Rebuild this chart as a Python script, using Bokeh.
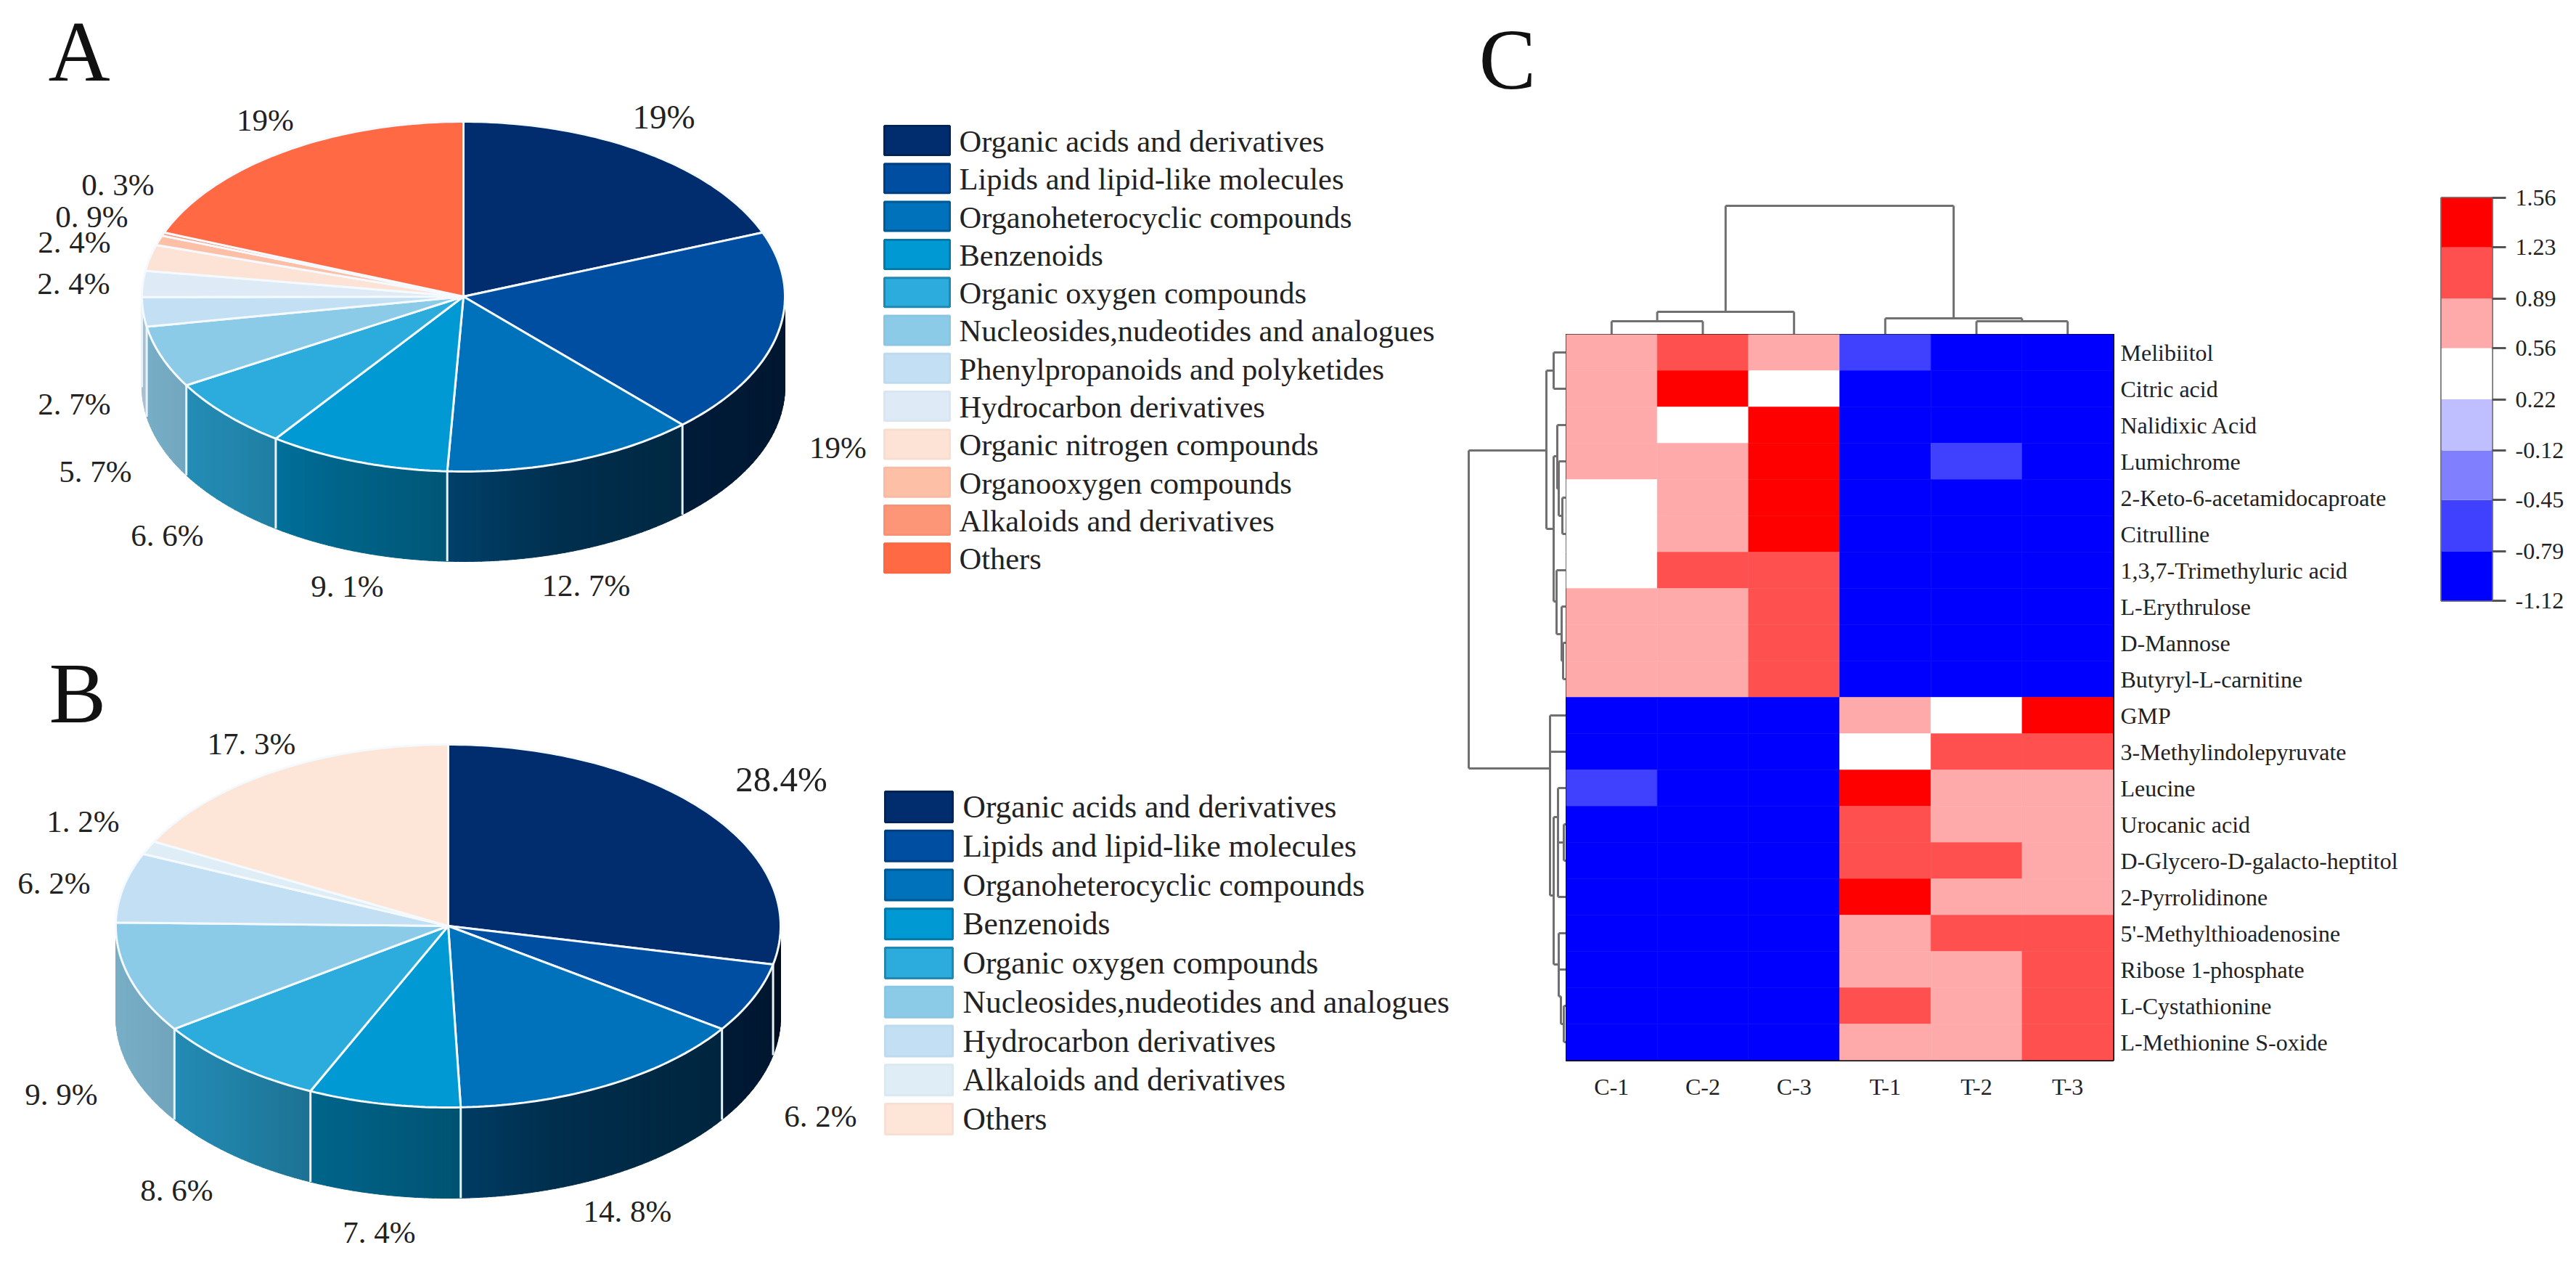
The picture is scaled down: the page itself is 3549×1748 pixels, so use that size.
import math
from bokeh.core.properties import value
from bokeh.embed import file_html
from bokeh.layouts import column, row
from bokeh.models import FactorRange, FixedTicker, LinearAxis, LinearColorMapper, PrintfTickFormatter, Range1d, Spacer
from bokeh.plotting import figure
from bokeh.resources import INLINE
from bokeh.transform import transform

# ---------- data ----------
a_labels = ["Organic acids and derivatives", "Lipids and lipid-like molecules", "Organoheterocyclic compounds",
            "Benzenoids", "Organic oxygen compounds", "Nucleosides,nudeotides and analogues",
            "Phenylpropanoids and polyketides", "Hydrocarbon derivatives", "Organic nitrogen compounds",
            "Organooxygen compounds", "Alkaloids and derivatives", "Others"]
a_values = [19, 19, 12.7, 9.1, 6.6, 5.7, 2.7, 2.4, 2.4, 0.9, 0.3, 19]
a_texts = ["19%", "19%", "12. 7%", "9. 1%", "6. 6%", "5. 7%", "2. 7%", "2. 4%", "2. 4%", "0. 9%", "0. 3%", "19%"]
a_colors = ["#012c6e", "#004ea2", "#0071bb", "#0099d3", "#2cabdd", "#8ccbe8", "#c3dff3", "#deebf6",
            "#fde3d5", "#fdbfa6", "#fc9676", "#ff6a45"]

b_labels = ["Organic acids and derivatives", "Lipids and lipid-like molecules", "Organoheterocyclic compounds",
            "Benzenoids", "Organic oxygen compounds", "Nucleosides,nudeotides and analogues",
            "Hydrocarbon derivatives", "Alkaloids and derivatives", "Others"]
b_values = [28.4, 6.2, 14.8, 7.4, 8.6, 9.9, 6.2, 1.2, 17.3]
b_texts = ["28.4%", "6. 2%", "14. 8%", "7. 4%", "8. 6%", "9. 9%", "6. 2%", "1. 2%", "17. 3%"]
b_colors = ["#012c6e", "#004ea2", "#0071bb", "#0099d3", "#2cabdd", "#8ccbe8", "#c3dff3", "#deedf6", "#fde5d8"]

samples = ["C-1", "C-2", "C-3", "T-1", "T-2", "T-3"]
metabolites = ["Melibiitol", "Citric acid", "Nalidixic Acid", "Lumichrome", "2-Keto-6-acetamidocaproate",
               "Citrulline", "1,3,7-Trimethyluric acid", "L-Erythrulose", "D-Mannose", "Butyryl-L-carnitine",
               "GMP", "3-Methylindolepyruvate", "Leucine", "Urocanic acid", "D-Glycero-D-galacto-heptitol",
               "2-Pyrrolidinone", "5'-Methylthioadenosine", "Ribose 1-phosphate", "L-Cystathionine",
               "L-Methionine S-oxide"]
heat = [
    [0.72, 1.06, 0.72, -0.62, -0.95, -0.95],
    [0.72, 1.39, 0.39, -0.95, -0.95, -0.95],
    [0.72, 0.39, 1.39, -0.95, -0.95, -0.95],
    [0.72, 0.72, 1.39, -0.95, -0.62, -0.95],
    [0.39, 0.72, 1.39, -0.95, -0.95, -0.95],
    [0.39, 0.72, 1.39, -0.95, -0.95, -0.95],
    [0.39, 1.06, 1.06, -0.95, -0.95, -0.95],
    [0.72, 0.72, 1.06, -0.95, -0.95, -0.95],
    [0.72, 0.72, 1.06, -0.95, -0.95, -0.95],
    [0.72, 0.72, 1.06, -0.95, -0.95, -0.95],
    [-0.95, -0.95, -0.95, 0.72, 0.39, 1.39],
    [-0.95, -0.95, -0.95, 0.39, 1.06, 1.06],
    [-0.62, -0.95, -0.95, 1.39, 0.72, 0.72],
    [-0.95, -0.95, -0.95, 1.06, 0.72, 0.72],
    [-0.95, -0.95, -0.95, 1.06, 1.06, 0.72],
    [-0.95, -0.95, -0.95, 1.39, 0.72, 0.72],
    [-0.95, -0.95, -0.95, 0.72, 1.06, 1.06],
    [-0.95, -0.95, -0.95, 0.72, 0.72, 1.06],
    [-0.95, -0.95, -0.95, 1.06, 0.72, 1.06],
    [-0.95, -0.95, -0.95, 0.72, 0.72, 1.06],
]
scale_ticks = [-1.12, -0.79, -0.45, -0.12, 0.22, 0.56, 0.89, 1.23, 1.56]
scale_colors = ["#0000ff", "#4040ff", "#8080ff", "#bfbfff", "#ffffff", "#ffaaaa", "#ff5050", "#ff0000"]

# dendrogram merge trees: (merge height, attach position, children); an int child is a leaf index
col_tree = (177, 2.95, [(31, 1.75, [(18, 1.0, [0, 1]), 2]),
                        (22, 4.25, [3, (18, 5.0, [4, 5])])])
row_tree = (134, 7.0, [
    (27, 3.2, [
        (17, 1.0, [0, 1]),
        (17, 5.36, [
            (12, 3.36, [2, (10, 4.26, [3, (5, 5.0, [4, 5])])]),
            (13, 7.36, [6, (6, 8.26, [7, (4, 9.0, [8, 9])])]),
        ]),
    ]),
    (22, 11.96, [10, 11, (17, 15.46, [
        (11, 13.3, [12, (3, 14.0, [13, 14]), 15]),
        (10, 17.36, [16, 17, (7, 18.24, [(3, 19.0, [18, 19])])]),
    ])]),
])

# ---------- helpers ----------
FONT = "Liberation Serif"
INK = "#222222"
BASE_SHIFT = 0.33  # em the alphabetic baseline lands below the anchor in this renderer


def shade(hex_color, f):
    r, g, b = (int(hex_color[i:i + 2], 16) for i in (1, 3, 5))
    return "#%02x%02x%02x" % (int(r * f), int(g * f), int(b * f))


def side_factor(t):
    stops = [(-1.0, 0.86), (-0.7, 0.78), (-0.4, 0.66), (0.0, 0.55), (0.3, 0.42), (1.0, 0.30)]
    for (t0, f0), (t1, f1) in zip(stops, stops[1:]):
        if t <= t1:
            return f0 + (f1 - f0) * (t - t0) / (t1 - t0)
    return stops[-1][1]


def draw_pie(p, values, colors, cx, cy, rx, ry, depth):
    pt = lambda th: (cx + rx * math.sin(th), cy - ry * math.cos(th))
    total = sum(values)
    edges = [0.0]
    for v in values:
        edges.append(edges[-1] + v / total * 2 * math.pi)
    # side wall, split in narrow strips for the shading
    xs, ys, fills = [], [], []
    walls_x, walls_y = [], []
    for c, th0, th1 in zip(colors, edges, edges[1:]):
        lo, hi = max(th0, math.pi / 2), min(th1, 3 * math.pi / 2)
        if lo >= hi:
            continue
        n = max(2, int((hi - lo) / math.radians(1.5)))
        for k in range(n):
            a0 = lo + (hi - lo) * k / n
            a1 = lo + (hi - lo) * (k + 1) / n + 0.002
            arc = [a0 + (a1 - a0) * j / 3 for j in range(4)]
            top = [pt(a) for a in arc]
            xs.append([q[0] for q in top] + [q[0] for q in reversed(top)])
            ys.append([q[1] for q in top] + [q[1] + depth for q in reversed(top)])
            fills.append(shade(c, side_factor((cx + rx * math.sin((a0 + a1) / 2) - cx) / rx)))
    for th in edges:
        if math.pi / 2 < th < 3 * math.pi / 2:
            x, y = pt(th)
            walls_x.append([x, x])
            walls_y.append([y, y + depth])
    p.patches(xs, ys, fill_color=fills, line_color=fills, line_width=1)
    p.multi_line(walls_x, walls_y, line_color="#e8f2f8", line_width=3)
    # top face
    xs, ys = [], []
    for th0, th1 in zip(edges, edges[1:]):
        n = max(3, int((th1 - th0) / math.radians(1)))
        arc = [pt(th0 + (th1 - th0) * j / n) for j in range(n + 1)]
        xs.append([cx] + [q[0] for q in arc])
        ys.append([cy] + [q[1] for q in arc])
    p.patches(xs, ys, fill_color=colors, line_color="#f4faff", line_width=3)


def draw_labels(p, texts, positions, sizes):
    for t, q, s in zip(texts, positions, sizes):
        p.text([q[0]], [q[1] + 0.34 * s - BASE_SHIFT * s], text=[t], text_align="center",
               text_baseline="alphabetic", text_font=value(FONT), text_font_size=f"{s}px", text_color=INK)


def draw_legend(p, labels, colors, left, right, top, pitch, height, text_x, size):
    tops = [top + pitch * i for i in range(len(labels))]
    p.quad(left=left, right=right, top=tops, bottom=[t + height for t in tops], fill_color=colors,
           line_color=[shade(c, 0.8 if i < 5 else 0.98) for i, c in enumerate(colors)], line_width=3)
    p.text([text_x] * len(labels), [t + 35 - BASE_SHIFT * size for t in tops], text=labels,
           text_baseline="alphabetic", text_font=value(FONT), text_font_size=f"{size}px", text_color=INK)


def tree_lines(node, leaf_pos):
    """Returns segments as (pos0, height0, pos1, height1), plus the node's attach position."""
    if isinstance(node, int):
        return [], leaf_pos(node), 0
    h, attach, children = node
    segs, spots = [], [attach]
    for ch in children:
        s, at, ch_h = tree_lines(ch, leaf_pos)
        segs += s
        segs.append((at, h, at, ch_h))
        spots.append(at)
    segs.append((min(spots), h, max(spots), h))
    return segs, attach, h


def bare(fig):
    fig.grid.visible = False
    fig.outline_line_color = None
    fig.background_fill_color = "white"
    fig.border_fill_color = "white"
    fig.frame_align = False
    return fig


# ---------- panels A and B ----------
left = bare(figure(width=2000, height=1740, x_range=Range1d(8, 2008), y_range=Range1d(1740, 0),
                   x_axis_location=None, y_axis_location=None, toolbar_location=None,
                   output_backend="svg", min_border=0))

draw_pie(left, a_values, a_colors, 638, 408, 443, 241, 124)
draw_pie(left, b_values, b_colors, 617, 1275, 458, 250, 125)

a_pos = [(914, 160), (1154, 616), (807, 806), (478, 807), (230, 737), (131, 649), (102, 556),
         (101, 390), (102, 333), (126, 298), (162, 254), (365, 165)]
b_pos = [(1076, 1073), (1130, 1537), (864, 1668), (522, 1697), (243, 1639), (84, 1507), (74, 1216),
         (114, 1131), (346, 1024)]
a_sizes = [47, 43, 43, 43, 43, 43, 43, 43, 43, 43, 43, 43]
b_sizes = [49, 43, 43, 43, 43, 43, 43, 43, 43]
draw_labels(left, a_texts, a_pos, a_sizes)
draw_labels(left, b_texts, b_pos, b_sizes)
draw_legend(left, a_labels, a_colors, 1218, 1308, 173, 52.3, 40, 1321, 42.5)
draw_legend(left, b_labels, b_colors, 1219, 1312, 1090, 53.75, 42, 1326, 43.5)

left.text([66, 67], [71, 955], text=["A", "B"], text_baseline="middle", text_font=value(FONT),
          text_font_size="118px", text_color="#111111")

# ---------- panel C: heat map ----------
heat_fig = bare(figure(width=1173, height=1280, x_range=FactorRange(*samples),
                       y_range=FactorRange(*reversed(metabolites)), x_axis_location="below",
                       y_axis_location="right", toolbar_location=None, output_backend="svg",
                       min_border_left=0, min_border_right=419, min_border_top=0, min_border_bottom=280))
mapper = LinearColorMapper(palette=scale_colors, low=scale_ticks[0], high=scale_ticks[-1])
cell_data = dict(
    x=[s for _ in metabolites for s in samples],
    y=[m for m in metabolites for _ in samples],
    v=[v for line in heat for v in line],
)
heat_fig.rect("x", "y", 1, 1, source=cell_data, fill_color=transform("v", mapper),
              line_color=transform("v", mapper), line_width=0.5)
for ax in (heat_fig.xaxis[0], heat_fig.yaxis[0]):
    ax.axis_line_color = None
    ax.major_tick_line_color = None
    ax.minor_tick_line_color = None
    ax.major_label_text_font = FONT
    ax.major_label_text_font_size = "32px"
    ax.major_label_text_color = INK
heat_fig.xaxis[0].major_label_standoff = 12
heat_fig.yaxis[0].major_label_standoff = 4
heat_fig.outline_line_color = "#000000"
heat_fig.outline_line_width = 3

# dendrogram above the columns
top_tree = bare(figure(width=754, height=452, x_range=Range1d(0, 6), y_range=Range1d(0, 452),
                       x_axis_location=None, y_axis_location=None, toolbar_location=None,
                       output_backend="svg", min_border=0))
segs, _, _ = tree_lines(col_tree, lambda i: i + 0.5)
top_tree.multi_line([[s[0], s[2]] for s in segs], [[s[1], s[3]] for s in segs], line_color="#707070", line_width=3)

# dendrogram left of the rows
side_tree = bare(figure(width=149, height=1280, x_range=Range1d(149, 0), y_range=Range1d(20, 0),
                        x_axis_location=None, y_axis_location=None, toolbar_location=None,
                        output_backend="svg", min_border_left=0, min_border_right=0,
                        min_border_top=0, min_border_bottom=280))
segs, _, _ = tree_lines(row_tree, lambda i: i + 0.5)
side_tree.multi_line([[s[1], s[3]] for s in segs], [[s[0], s[2]] for s in segs], line_color="#707070", line_width=3)

# colour scale
scale = bare(figure(width=211, height=1732, x_range=Range1d(0, 1),
                    y_range=Range1d(scale_ticks[0], scale_ticks[-1]), x_axis_location=None,
                    y_axis_location=None, toolbar_location=None, output_backend="svg",
                    min_border_left=33, min_border_right=108, min_border_top=264, min_border_bottom=913))
scale.quad(left=0, right=1, bottom=scale_ticks[:-1], top=scale_ticks[1:], fill_color=scale_colors, line_color=None)
scale.outline_line_color = "#777777"
scale.outline_line_width = 3
axis = LinearAxis(ticker=FixedTicker(ticks=scale_ticks), formatter=PrintfTickFormatter(format="%.2f"))
axis.axis_line_color = None
axis.major_tick_in = 0
axis.major_tick_out = 19
axis.major_tick_line_color = "#555555"
axis.major_tick_line_width = 3
axis.major_label_standoff = 13
axis.major_label_text_font = FONT
axis.major_label_text_font_size = "32px"
axis.major_label_text_color = INK
scale.add_layout(axis, "right")

letter = bare(figure(width=149, height=452, x_range=Range1d(2008, 2157), y_range=Range1d(460, 8),
                     x_axis_location=None, y_axis_location=None, toolbar_location=None,
                     output_backend="svg", min_border=0))
letter.text([2037], [82], text=["C"], text_baseline="middle", text_font=value(FONT),
            text_font_size="118px", text_color="#111111")

middle = column(row(letter, top_tree, Spacer(width=419, height=452), spacing=0),
                row(side_tree, heat_fig, spacing=0), spacing=0)
right = column(Spacer(width=1503, height=8), row(middle, scale, spacing=0), spacing=0)
page = row(Spacer(width=8, height=1740), left, right, spacing=0)

open("out.html", "w").write(file_html(page, INLINE))
